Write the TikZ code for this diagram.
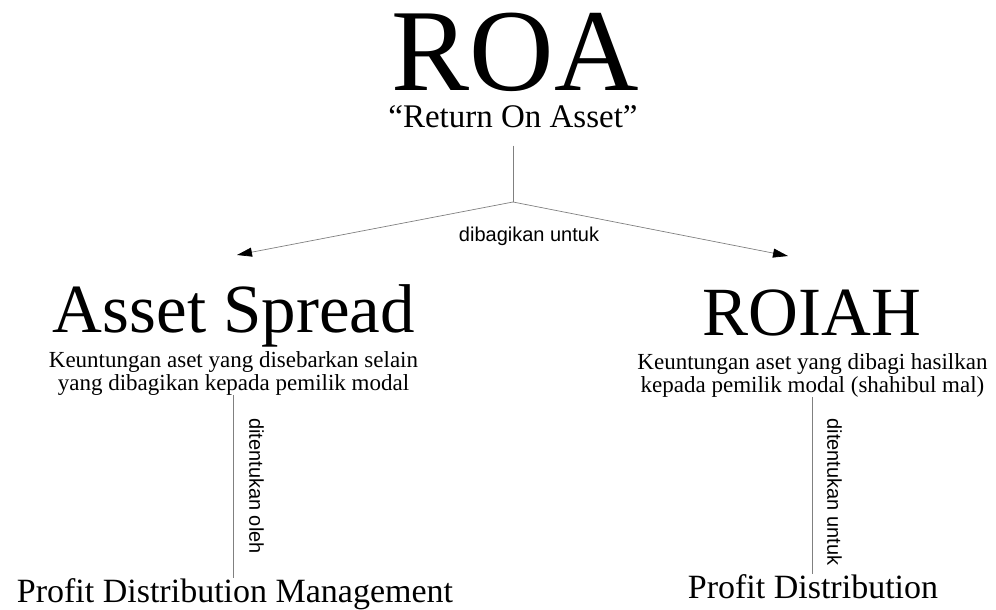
\documentclass[tikz,border=0pt]{standalone}
\usepackage{fontspec}
\setmainfont{Liberation Serif}
\setsansfont{Liberation Sans}
\usetikzlibrary{arrows.meta}
\begin{document}
\begin{tikzpicture}[x=1bp,y=-1bp,
  txt/.style={inner sep=0pt, anchor=base},
  big/.style={txt, text depth=0pt, font=\fontsize{117bp}{117bp}\selectfont},
  mid/.style={txt, font=\fontsize{69bp}{69bp}\selectfont},
  sub/.style={txt, text height=23bp, font=\fontsize{33bp}{33bp}\selectfont},
  bot/.style={txt, font=\fontsize{34bp}{34bp}\selectfont},
  desc/.style={txt, align=center, font=\fontsize{23bp}{23bp}\selectfont},
  lab/.style={inner sep=0pt, font=\sffamily\fontsize{20bp}{20bp}\selectfont},
  conn/.style={draw=black!50, line width=0.7bp},
  arr/.style={conn, -{Triangle[length=15bp, width=9bp, color=black]}}
]
\useasboundingbox (0,0) rectangle (996,610);
\node[big] (roa) at (515,91) {ROA};
\node[sub] (ret) at (513,128) {“Return On Asset”};
\coordinate (j) at (513,202);
\coordinate (aL) at (237,255);
\coordinate (aR) at (788,256);
\draw[conn] ([yshift=-17bp]ret.south) -- (j);
\draw[arr] (j) -- (aL);
\draw[arr] (j) -- (aR);
\node[lab, anchor=base] (dib) at (529,242) {dibagikan untuk};

\node[mid] (asp) at (234,332) {Asset Spread};
\node[mid] (roi) at (812,335) {ROIAH};
\node[desc] (dl) at (233.5,390) {Keuntungan aset yang disebarkan selain\\yang dibagikan kepada pemilik modal};
\node[desc] (dr) at (812.5,392) {Keuntungan aset yang dibagi hasilkan\\kepada pemilik modal (shahibul mal)};

\node[bot] (pdm) at (235,602.5) {Profit Distribution Management};
\node[bot] (pd) at (813,598) {Profit Distribution};

\draw[conn] (dl.south) -- (dl.south |- pdm.north);
\draw[conn] (dr.south) -- (dr.south |- pd.north);
\node[lab, rotate=-90, anchor=south] (l1) at (249,486) {ditentukan oleh};
\node[lab, rotate=-90, anchor=south] (l2) at (827,492) {ditentukan untuk};
\end{tikzpicture}
\end{document}
